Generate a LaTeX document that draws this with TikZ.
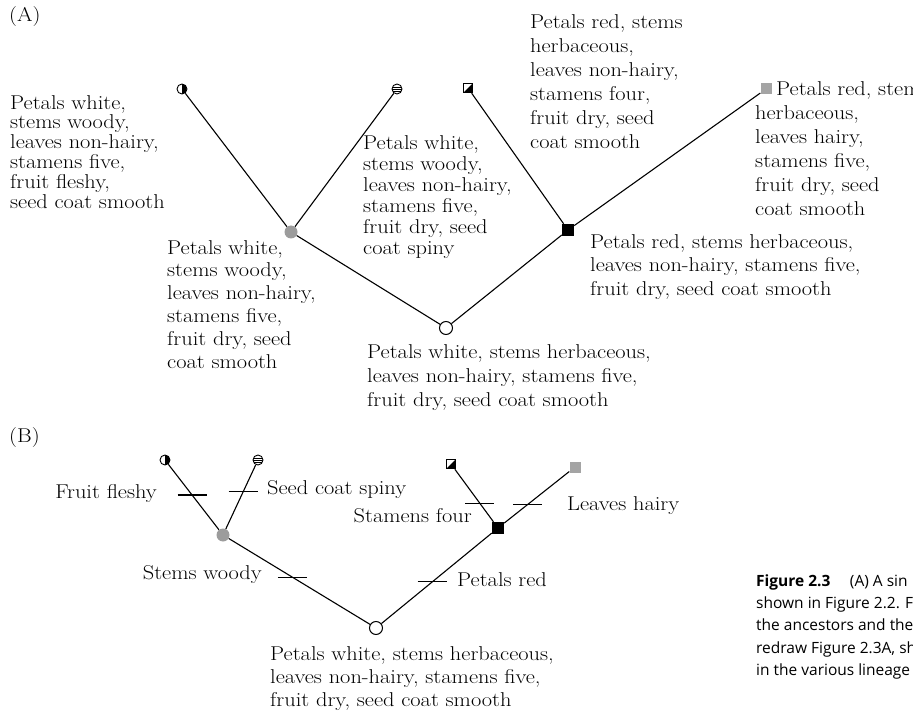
\documentclass[tikz,border=0pt]{standalone}
\usepackage{fontspec}
\setmainfont{Latin Modern Roman}[FakeStretch=1.12]
\newfontfamily\capfont{Open Sans}
\usetikzlibrary{calc}
\definecolor{nodegrey}{HTML}{9C9C9C}
\definecolor{tipgrey}{HTML}{A4A4A4}
\tikzset{
  branch/.style={line width=1.1pt},
  lbl/.style={inner sep=0pt, align=left, font=\fontsize{20}{#1}\selectfont},
  lbl/.default=23,
  charlbl/.style={inner sep=0pt, font=\fontsize{20}{23}\selectfont},
  caption/.style={inner sep=0pt, anchor=mid west, font=\capfont\fontsize{15.5}{22}\selectfont},
  tickmark/.style={line width=1.1pt},
  tiphalfc/.style={circle, draw, line width=0.9pt, minimum size=10pt, inner sep=0pt,
    path picture={\fill (path picture bounding box.north) rectangle (path picture bounding box.south east);}},
  tipstripe/.style={circle, draw, line width=0.9pt, minimum size=10pt, inner sep=0pt,
    path picture={
      \foreach \f in {0.3,0.5,0.7}
        \draw[line width=0.7pt] ($(path picture bounding box.south west)!\f!(path picture bounding box.north west)$)
          -- ($(path picture bounding box.south east)!\f!(path picture bounding box.north east)$);}},
  tiphalfs/.style={rectangle, draw, line width=1pt, minimum size=9.5pt, inner sep=0pt,
    path picture={\fill (path picture bounding box.south west) -- (path picture bounding box.north east)
      -- (path picture bounding box.south east) -- cycle;}},
  tipgreysq/.style={rectangle, fill=tipgrey, minimum size=11pt, inner sep=0pt},
  greydot/.style={circle, fill=nodegrey, minimum size=13pt, inner sep=0pt},
  blacksq/.style={rectangle, fill=black, minimum size=12pt, inner sep=0pt},
  rootdot/.style={circle, draw, fill=white, line width=1pt, minimum size=13pt, inner sep=0pt},
}
\begin{document}
\begin{tikzpicture}[x=1pt, y=-1pt]
\useasboundingbox (0,0) rectangle (913,711);
\clip (0,0) rectangle (913,711);

% ---------------- panel (A): character states at tips and ancestors
\node[charlbl, anchor=mid west] (labA) at (9,19) {(A)};

\node[tiphalfc]  (a1) at (182,89) {};
\node[tipstripe] (a2) at (397,89) {};
\node[tiphalfs]  (a3) at (468,88) {};
\node[tipgreysq] (a4) at (766,89) {};
\node[greydot]   (ag) at (291,232) {};
\node[blacksq]   (ak) at (568,230) {};
\node[rootdot]   (ar) at (446,328) {};

\draw[branch] (a1) -- (ag);
\draw[branch] (a2) -- (ag);
\draw[branch] (ag) -- (ar);
\draw[branch] (a3) -- (ak);
\draw[branch] (a4) -- (ak);
\draw[branch] (ak) -- (ar);

\node[lbl=19.8, anchor=north west] (ta1) at (10,95)
  {Petals white,\\stems woody,\\leaves non-hairy,\\stamens five,\\fruit fleshy,\\seed coat smooth};
\node[lbl=21, anchor=north west] (ta2) at (363,135)
  {Petals white,\\stems woody,\\leaves non-hairy,\\stamens five,\\fruit dry, seed\\coat spiny};
\node[lbl=24, anchor=north west] (ta3) at (530,14)
  {Petals red, stems\\herbaceous,\\leaves non-hairy,\\stamens four,\\fruit dry, seed\\coat smooth};
\node[lbl=24, anchor=north west] (ta4) at (755,81)
  {\hspace*{21pt}Petals red, stems\\herbaceous,\\leaves hairy,\\stamens five,\\fruit dry, seed\\coat smooth};
\node[lbl=22.8, anchor=north west] (tag) at (167,240)
  {Petals white,\\stems woody,\\leaves non-hairy,\\stamens five,\\fruit dry, seed\\coat smooth};
\node[lbl=23.5, anchor=north west] (tak) at (590,234)
  {Petals red, stems herbaceous,\\leaves non-hairy, stamens five,\\fruit dry, seed coat smooth};
\node[lbl=24, anchor=north west] (tar) at (367,344)
  {Petals white, stems herbaceous,\\leaves non-hairy, stamens five,\\fruit dry, seed coat smooth};

% ---------------- panel (B): character changes along branches
\node[charlbl, anchor=mid west] (labB) at (9,440) {(B)};

\node[tiphalfc]  (b1) at (165,460) {};
\node[tipstripe] (b2) at (258,460) {};
\node[tiphalfs]  (b3) at (451,464) {};
\node[tipgreysq] (b4) at (575,467) {};
\node[greydot]   (bg) at (223,535) {};
\node[blacksq]   (bk) at (498,528) {};
\node[rootdot]   (br) at (376,628) {};

\draw[branch] (b1) -- (bg) coordinate[pos=0.47] (c1);
\draw[branch] (b2) -- (bg) coordinate[pos=0.42] (c2);
\draw[branch] (bg) -- (br) coordinate[pos=0.45] (c3);
\draw[branch] (b3) -- (bk) coordinate[pos=0.65] (c4);
\draw[branch] (b4) -- (bk) coordinate[pos=0.64] (c5);
\draw[branch] (bk) -- (br) coordinate[pos=0.54] (c6);

\foreach \c in {c1,c2,c3,c4,c5,c6}
  \draw[tickmark] ($(\c)+(-14.5,0)$) -- ($(\c)+(14.5,0)$);

\node[charlbl, anchor=mid east] (l1) at (157,496) {Fruit fleshy};
\node[charlbl, anchor=mid west] (l2) at (267,492) {Seed coat spiny};
\node[charlbl, anchor=mid east] (l3) at (472,520) {Stamens four};
\node[charlbl, anchor=mid west] (l4) at (567,508) {Leaves hairy};
\node[charlbl, anchor=mid east] (l5) at (262,577) {Stems woody};
\node[charlbl, anchor=mid west] (l6) at (457,584) {Petals red};

\node[lbl=23, anchor=north west] (tbr) at (270,646)
  {Petals white, stems herbaceous,\\leaves non-hairy, stamens five,\\fruit dry, seed coat smooth};

% ---------------- caption
\node[caption] (cap1) at (756,584) {\textbf{Figure 2.3}\quad\ (A) A sin};
\node[caption] (cap2) at (756,606) {shown in Figure 2.2. F};
\node[caption] (cap3) at (756,628) {the ancestors and the};
\node[caption] (cap4) at (756,651) {redraw Figure 2.3A, sh};
\node[caption] (cap5) at (756,673) {in the various lineage};
\end{tikzpicture}
\end{document}
